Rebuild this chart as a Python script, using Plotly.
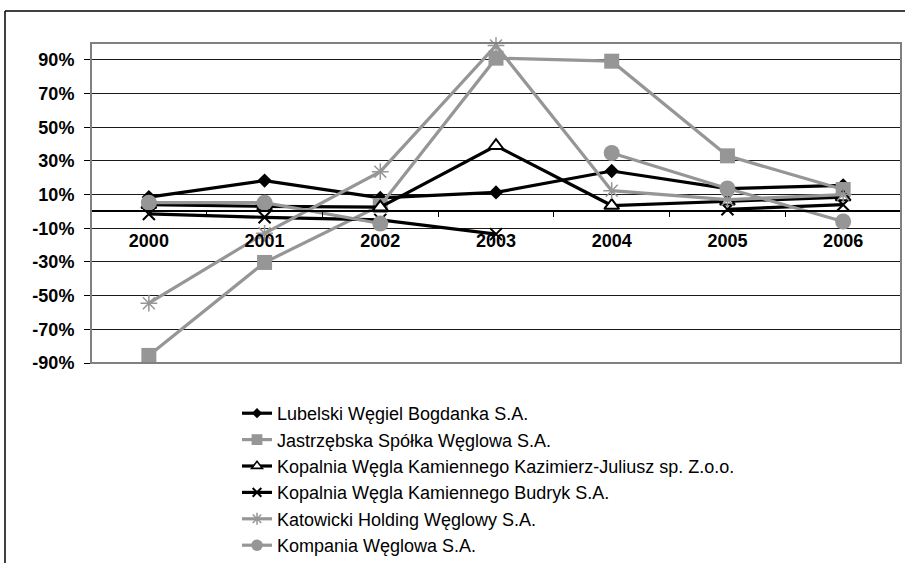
import plotly.graph_objects as go

# Annual change by company, 2000-2006 (fractions; None = no data)
years = ["2000", "2001", "2002", "2003", "2004", "2005", "2006"]
lubelski = [0.085, 0.183, 0.08, 0.113, 0.24, 0.135, 0.155]
jastrzebska = [-0.855, -0.303, 0.035, 0.91, 0.892, 0.33, 0.13]
kazimierz = [0.04, 0.03, 0.025, 0.39, 0.035, 0.06, 0.085]
budryk = [-0.015, -0.035, -0.05, -0.135, None, 0.013, 0.04]
katowicki = [-0.545, -0.13, 0.236, 0.985, 0.123, 0.07, 0.10]
kompania = [0.052, 0.052, -0.072, None, 0.347, 0.136, -0.06]

names = [
    "Lubelski Węgiel Bogdanka S.A.",
    "Jastrzębska Spółka Węglowa S.A.",
    "Kopalnia Węgla Kamiennego Kazimierz-Juliusz sp. Z.o.o.",
    "Kopalnia Węgla Kamiennego Budryk S.A.",
    "Katowicki Holding Węglowy S.A.",
    "Kompania Węglowa S.A.",
]

y_tickvals = [-0.9, -0.7, -0.5, -0.3, -0.1, 0.1, 0.3, 0.5, 0.7, 0.9]
y_ticktext = ["-90%", "-70%", "-50%", "-30%", "-10%", "10%", "30%", "50%", "70%", "90%"]
y_range = [-0.9, 1.0]

BLACK = "#000000"
GRAY = "#969696"
FONT = "Liberation Sans, Arial, sans-serif"

W, H = 905, 563
L, R, T, B = 91, 4, 43, 200


def marker_style(kind, scale=1.0):
    if kind == "diamond":
        return dict(symbol="diamond", size=11 * scale, color=BLACK)
    if kind == "square":
        return dict(symbol="square", size=15 * scale, color=GRAY)
    if kind == "triangle":
        return dict(symbol="triangle-up", size=13 * scale, color="white",
                    line=dict(color=BLACK, width=2 if scale == 1 else 1.6))
    if kind == "x":
        return dict(symbol="x-thin-open", size=12 * scale,
                    line=dict(color=BLACK, width=2))
    if kind == "star":
        return dict(symbol="asterisk-open", size=14 * scale,
                    line=dict(color=GRAY, width=1.5))
    return dict(symbol="circle", size=16 * scale, color=GRAY)


series = [
    (lubelski, BLACK, "diamond"),
    (jastrzebska, GRAY, "square"),
    (kazimierz, BLACK, "triangle"),
    (budryk, BLACK, "x"),
    (katowicki, GRAY, "star"),
    (kompania, GRAY, "circle"),
]

fig = go.Figure()
for name, (values, color, kind) in zip(names, series):
    fig.add_trace(go.Scatter(
        x=years, y=values, name=name, mode="lines+markers",
        line=dict(color=color, width=3.2),
        marker=marker_style(kind), connectgaps=False, cliponaxis=False,
        showlegend=False,
    ))

# Legend keys with smaller symbols than the plotted markers
for name, (values, color, kind) in zip(names, series):
    fig.add_trace(go.Scatter(
        x=[None], y=[None], name=name, mode="lines+markers",
        line=dict(color=color, width=3.2),
        marker=marker_style(kind, 0.72), showlegend=True,
    ))

plot_w = W - L - R
plot_h = H - T - B


def px_x(p):
    return (p - L) / plot_w


def px_y(p):
    return (H - B - p) / plot_h


zero_pos = (0 - y_range[0]) / (y_range[1] - y_range[0])

fig.update_layout(
    width=W, height=H,
    margin=dict(l=L, r=R, t=T, b=B, autoexpand=False),
    paper_bgcolor="white", plot_bgcolor="white",
    font=dict(family=FONT, color=BLACK),
    showlegend=True,
    legend=dict(
        x=px_x(237), y=px_y(395), xanchor="left", yanchor="top",
        font=dict(family=FONT, size=18, color=BLACK),
        bgcolor="rgba(0,0,0,0)", borderwidth=0,
        tracegroupgap=0, itemwidth=30,
    ),
    xaxis=dict(
        type="category", categoryorder="array", categoryarray=years,
        anchor="free", position=zero_pos,
        showline=True, linecolor=BLACK, linewidth=1.5,
        ticks="outside", tickson="boundaries", ticklen=5, tickcolor=BLACK,
        tickwidth=1, showgrid=False, zeroline=False,
        tickfont=dict(family=FONT, size=18, color=BLACK, weight="bold"),
        ticklabelstandoff=13,
        range=[-0.5, 6.5],
    ),
    yaxis=dict(
        range=y_range, tickvals=y_tickvals, ticktext=y_ticktext,
        showgrid=True, gridcolor="#1a1a1a", gridwidth=1,
        zeroline=False, showline=False,
        ticks="outside", ticklen=6, tickcolor=BLACK, tickwidth=1,
        tickfont=dict(family=FONT, size=18, color=BLACK, weight="bold"),
        ticklabelstandoff=6,
    ),
)

# Plot-area border
fig.add_shape(type="rect", xref="paper", yref="paper", x0=0, x1=1, y0=0, y1=1,
              line=dict(color="#808080", width=2), layer="above")
# Outer chart frame (top and left edges)
fig.add_shape(type="line", xref="paper", yref="paper",
              x0=px_x(5), x1=px_x(W + 5), y0=px_y(11), y1=px_y(11),
              line=dict(color=BLACK, width=1.5))
fig.add_shape(type="line", xref="paper", yref="paper",
              x0=px_x(5), x1=px_x(5), y0=px_y(11), y1=px_y(H + 5),
              line=dict(color=BLACK, width=1.5))

fig.write_html("out.html")
